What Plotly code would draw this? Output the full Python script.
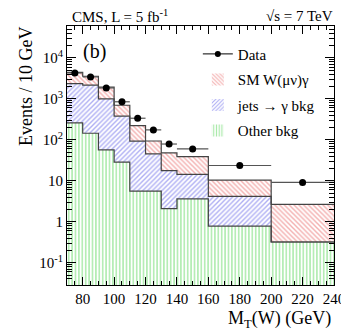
import numpy as np
import plotly.graph_objects as go

# binning in M_T(W) (GeV)
bin_edges = [70, 80, 90, 100, 110, 120, 130, 140, 160, 200, 240]

# stacked components (events / bin)
other_bkg = [260, 145, 57, 28.6, 5.6, 5.6, 2.1, 3.6, 0.78, 0.32]
jets_bkg = [2100, 2015, 943, 349, 87, 40, 15.7, 10.7, 3.4, 0]
sm_wgamma = [2090, 1410, 930, 322, 130, 48, 30, 24.7, 6.2, 2.33]

# data points
data_y = [4300, 3440, 1850, 850, 337, 175, 79, 60, 23.6, 9.1]

edges = np.array(bin_edges, dtype=float)
centers = (edges[:-1] + edges[1:]) / 2
widths = np.diff(edges)

lvl_other = np.array(other_bkg)
lvl_jets = lvl_other + np.array(jets_bkg)
lvl_total = lvl_jets + np.array(sm_wgamma)

serif = "Liberation Serif"
fig = go.Figure()

# histograms drawn back to front (overlay)
stack = [
    ("SM W(μν)γ", lvl_total, "\\", "#e86060", 2),
    ("jets → γ bkg", lvl_jets, "/", "#6060e8", 3),
    ("Other bkg", lvl_other, "|", "#4fd44f", 4),
]
for name, lvl, shp, col, rank in stack:
    fig.add_trace(go.Bar(
        x=centers, y=lvl, width=widths, name=name, legendrank=rank,
        legendgroup=name,
        marker=dict(color=col, line=dict(width=0),
                    pattern=dict(shape=shp, fgcolor=col, bgcolor="white",
                                 size=3.4, solidity=0.42)),
        hoverinfo="skip"))

# step outlines
for name, lvl, shp, col, rank in stack:
    fig.add_trace(go.Scatter(
        x=edges, y=list(lvl) + [lvl[-1]], mode="lines", line_shape="hv",
        line=dict(color="#444444", width=1.2), showlegend=False,
        hoverinfo="skip"))

# data
fig.add_trace(go.Scatter(
    x=centers, y=data_y, mode="markers",
    marker=dict(color="black", size=7),
    error_x=dict(type="data", array=widths / 2, color="#555555",
                 thickness=1.2, width=0),
    showlegend=False))
fig.add_trace(go.Scatter(
    x=[None], y=[None], mode="lines+markers", name="Data", legendrank=1,
    legendgroup="Data",
    line=dict(color="black", width=1), marker=dict(color="black", size=6)))

minor_vals = [m * 10.0 ** e for e in range(-2, 5) for m in range(2, 10)]

fig.update_layout(
    width=349, height=335,
    margin=dict(l=59, r=18, t=18, b=58),
    paper_bgcolor="white", plot_bgcolor="white",
    barmode="overlay", bargap=0,
    font=dict(family=serif, size=15, color="black"),
    legend=dict(x=0.49, y=0.955, xanchor="left", yanchor="top",
                bgcolor="rgba(0,0,0,0)", font=dict(size=15),
                traceorder="grouped", tracegroupgap=3, itemwidth=30),
    xaxis=dict(range=[70, 240], tickvals=list(range(80, 241, 20)),
               ticks="inside", ticklen=8, tickcolor="black",
               showline=True, linecolor="black", linewidth=1, mirror="ticks",
               showgrid=False, zeroline=False,
               minor=dict(ticks="inside", ticklen=4, dtick=5, tickcolor="black"),
               tickfont=dict(size=15)),
    yaxis=dict(type="log", range=[-1.545, 4.78],
               tickvals=[0.1, 1, 10, 100, 1000, 10000],
               ticktext=["10<sup>-1</sup>", "1", "10", "10<sup>2</sup>",
                         "10<sup>3</sup>", "10<sup>4</sup>"],
               ticks="inside", ticklen=9, tickcolor="black",
               showline=True, linecolor="black", linewidth=1, mirror="ticks",
               showgrid=False, zeroline=False,
               minor=dict(ticks="inside", ticklen=5, tickvals=minor_vals,
                          tickcolor="black"),
               tickfont=dict(size=15)),
    annotations=[
        dict(text="CMS, L = 5 fb<sup>-1</sup>", x=0.011, y=1.04,
             xref="paper", yref="paper", xanchor="left", yanchor="middle",
             showarrow=False, font=dict(size=15)),
        dict(text="√s = 7 TeV", x=1.004, y=1.04, xref="paper", yref="paper",
             xanchor="right", yanchor="middle", showarrow=False,
             font=dict(size=15)),
        dict(text="(b)", x=0.051, y=0.903, xref="paper", yref="paper",
             xanchor="left", yanchor="middle", showarrow=False,
             font=dict(size=20)),
        dict(text="M<sub>T</sub>(W) (GeV)", x=0.995, y=-0.135,
             xref="paper", yref="paper", xanchor="right", yanchor="middle",
             showarrow=False, font=dict(size=18)),
        dict(text="Events / 10 GeV", x=-0.154, y=0.768, textangle=-90,
             xref="paper", yref="paper", xanchor="center", yanchor="middle",
             showarrow=False, font=dict(size=18)),
    ],
)

fig.write_html("out.html")
